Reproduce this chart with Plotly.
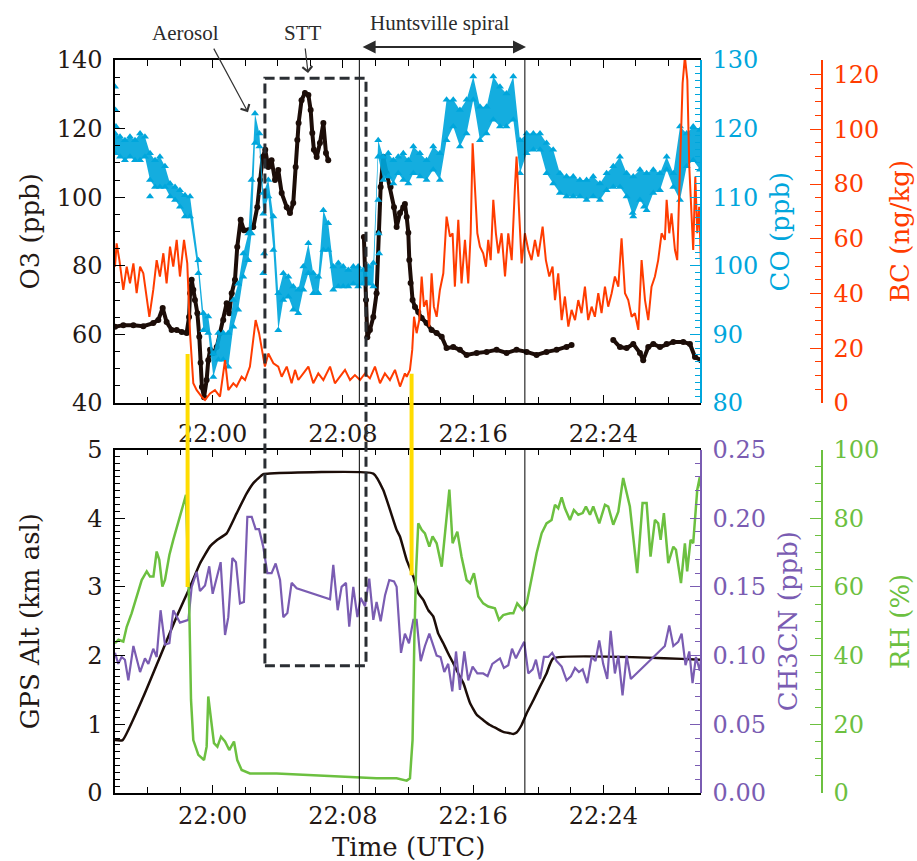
import plotly.graph_objects as go

# ---------------- data (time = minutes after 21:54 UTC) ----------------
x_range = [0, 36]
tick_minutes = [6, 14, 22, 30]
tick_labels = ["22:00", "22:08", "22:16", "22:24"]

o3_t = [0.00, 0.51, 1.13, 1.74, 2.35, 2.66, 2.93, 3.17, 3.48, 3.79, 4.10, 4.40, 4.55, 4.61, 4.71, 4.81,
        4.91, 5.06, 5.18, 5.26, 5.34, 5.47, 5.63, 5.73, 5.84, 6.04, 6.25, 6.45, 6.65, 6.86, 7.02, 7.17,
        7.37, 7.51, 7.72, 7.92, 8.19, 8.50, 8.74, 8.91, 9.07, 9.23, 9.42, 9.62, 9.83, 10.03, 10.24,
        10.55, 10.75, 10.95, 11.10, 11.20, 11.28, 11.46, 11.67, 11.88, 12.02, 12.12, 12.22, 12.39,
        12.59, 12.80, 12.96, 13.10, 14.00, 15.29, 15.42, 15.50, 15.66, 15.87, 16.07, 16.20, 16.32,
        16.48, 16.69, 16.93, 17.14, 17.30, 17.51, 17.71, 17.81, 17.92, 18.02, 18.08, 18.16, 18.28,
        18.43, 18.63, 18.84, 19.14, 19.45, 19.76, 20.07, 20.37, 20.78, 21.19, 21.60, 22.22, 22.83,
        23.44, 24.06, 24.67, 25.29, 25.90, 26.51, 27.13, 27.74, 28.05, 29.00, 30.61, 31.02, 31.43,
        31.84, 32.25, 32.45, 32.76, 33.07, 33.48, 33.89, 34.30, 34.91, 35.32, 35.63, 36.00]
o3_ppb = [62.2, 62.7, 62.7, 62.4, 63.3, 64.2, 67.7, 63.6, 61.3, 61.3, 60.7, 60.4, 65.1, 72.0, 75.9, 73.0,
          70.0, 66.2, 59.3, 51.7, 44.7, 41.7, 46.7, 52.5, 55.5, 54.6, 56.3, 60.4, 64.2, 69.1, 66.2, 72.0,
          75.9, 85.5, 93.4, 90.4, 90.4, 91.3, 97.1, 105.0, 111.7, 113.8, 108.8, 110.8, 105.0, 107.9, 101.2,
          97.1, 95.4, 98.3, 108.8, 116.7, 121.6, 128.3, 130.4, 129.8, 125.4, 118.7, 113.8, 111.7,
          115.8, 121.6, 112.9, 110.8, None, 88.4, 70.0, 59.2, 61.3, 65.1, 72.0, 89.6, 103.0,
          111.7, 107.0, 103.0, 97.1, 91.3, 95.4, 97.1, 98.0, 94.2, 89.6, 81.7, 75.0, 70.0,
          68.0, 66.5, 64.8, 63.3, 61.3, 60.4, 59.3, 56.0, 56.3, 55.5, 54.0, 54.6, 54.9,
          55.5, 54.6, 55.5, 54.9, 54.0, 54.9, 55.5, 56.3, 56.9, None, 58.4, 56.3, 56.0,
          57.2, 54.6, 52.5, 56.3, 57.2, 56.3, 57.2, 57.8, 57.8, 57.2, 53.4, 52.5]

co_t = [0.00, 0.31, 0.61, 0.92, 1.23, 1.54, 1.84, 2.15, 2.46, 2.76, 3.07, 3.38, 3.69, 3.99, 4.30, 4.61,
        5.12, 5.43, 5.73, 6.04, 6.35, 6.65, 6.96, 7.27, 7.57, 7.88, 8.19, 8.39, 8.60, 8.87, 9.11, 9.42,
        9.73, 10.03, 10.34, 10.65, 10.95, 11.26, 11.57, 11.88, 12.18, 12.49, 12.80, 13.10, 13.41, 13.72,
        14.02, 14.33, 14.64, 14.94, 15.25, 15.56, 15.87, 16.17, 16.48, 16.79, 17.10, 17.40, 17.71, 18.02,
        18.33, 18.73, 19.14, 19.55, 19.96, 20.37, 20.78, 21.19, 21.60, 22.01, 22.42, 22.83, 23.24, 23.65,
        24.05, 24.47, 24.88, 25.29, 25.70, 26.11, 26.51, 26.92, 27.33, 27.74, 28.15, 28.56, 28.97, 29.38,
        29.79, 30.20, 30.61, 31.02, 31.43, 31.84, 32.25, 32.66, 33.07, 33.48, 33.89, 34.30, 34.71, 35.12,
        35.52, 35.94]
co_hi = [119.3, 118.8, 118.3, 118.8, 118.3, 119.3, 118.8, 116.4, 115.4, 115.9, 114.5, 112.0, 111.5, 111.0, 110.3, 110.1,
         100.8, 93.1, 92.6, 87.2, 90.2, 90.2, 90.2, 95.0, 97.4, 101.8, 104.7, 112.5, 122.2, 119.3, 110.6, 112.5,
         107.2, 96.0, 98.9, 98.4, 97.0, 96.5, 99.9, 103.3, 98.9, 98.4, 108.1, 106.2, 99.9, 100.4,
         99.9, 99.4, 99.9, 99.9, 99.4, 99.9, 100.4, 118.3, 115.9, 116.4, 115.4, 115.9, 116.4, 115.4,
         117.4, 116.4, 115.4, 117.4, 116.4, 124.2, 124.2, 122.7, 124.2, 127.6, 123.2, 123.2, 127.6, 126.1,
         125.1, 127.6, 118.3, 119.3, 119.3, 119.3, 117.9, 116.9, 113.5, 113.0, 113.0, 112.5, 112.5, 113.0,
         112.0, 113.5, 114.5, 115.9, 113.5, 113.0, 114.0, 113.5, 114.0, 113.5, 115.9, 113.5, 120.3, 119.3,
         120.3, 119.8]
co_lo = [116.4, 115.9, 115.4, 115.9, 115.4, 115.4, 115.9, 112.5, 111.5, 111.5, 111.5, 110.1, 109.6, 108.6, 107.2, 107.2,
         98.9, 90.6, 90.2, 83.8, 86.3, 86.3, 85.3, 91.1, 93.6, 98.4, 100.8, 104.7, 117.9, 117.4, 107.6, 110.1,
         102.3, 90.6, 95.0, 95.5, 93.6, 93.1, 96.5, 98.9, 96.0, 96.0, 102.3, 102.3, 96.5, 97.0,
         97.0, 97.0, 97.4, 97.0, 97.4, 97.4, 97.0, 115.9, 112.5, 113.0, 112.0, 113.5, 112.5, 112.0,
         113.5, 113.0, 112.5, 114.0, 112.5, 118.3, 120.3, 117.4, 119.3, 124.2, 118.3, 119.3, 121.3, 120.3,
         120.3, 121.3, 113.5, 116.4, 116.9, 116.9, 113.5, 112.0, 110.6, 110.1, 110.1, 110.1, 109.6, 110.1,
         109.6, 111.0, 111.5, 111.5, 110.1, 107.2, 109.6, 108.1, 110.6, 111.0, 114.0, 111.5, 109.6, 114.5,
         115.4, 114.0]
co_extra_t = [0.00, 0.03, 0.06, 2.15, 9.11, 9.16, 16.17, 16.20, 16.23, 31.80, 32.50]
co_extra = [126.1, 122.7, 120.3, 110.1, 98.9, 101.8, 109.6, 104.7, 101.8, 107.7, 108.6]

bc_t = [0.00, 0.10, 0.27, 0.51, 0.72, 0.92, 1.13, 1.33, 1.54, 1.74, 2.11, 2.35, 2.56, 2.76, 2.97, 3.17,
        3.38, 3.58, 3.79, 3.99, 4.24, 4.44, 4.61, 4.81, 5.02, 5.32, 5.53, 5.84, 6.14, 6.45, 6.76, 6.96,
        7.27, 7.47, 7.78, 7.99, 8.29, 8.64, 8.85, 9.05, 9.21, 9.42, 9.73, 10.03, 10.24, 10.55, 10.85,
        11.06, 11.26, 11.57, 11.88, 12.18, 12.49, 12.80, 13.21, 13.51, 13.82, 14.13, 14.44, 14.74, 15.05,
        15.36, 15.66, 15.97, 16.28, 16.58, 16.89, 17.20, 17.51, 17.81, 17.92, 18.12, 18.26, 18.37, 18.53,
        18.69, 18.84, 18.98, 19.14, 19.31, 19.45, 19.59, 19.76, 19.96, 20.17, 20.37, 20.58, 20.74, 20.88,
        21.09, 21.29, 21.50, 21.70, 21.85, 21.97, 22.11, 22.26, 22.42, 22.62, 22.79, 22.93, 23.08, 23.24,
        23.40, 23.55, 23.75, 23.96, 24.16, 24.37, 24.57, 24.67, 24.84, 24.98, 25.18, 25.39, 25.59, 25.80,
        26.00, 26.27, 26.47, 26.68, 26.88, 27.03, 27.23, 27.44, 27.64, 27.85, 28.05, 28.26, 28.46, 28.66,
        28.87, 29.07, 29.28, 29.48, 29.69, 29.89, 30.10, 30.30, 30.51, 30.71, 30.92, 31.12, 31.33, 31.53,
        31.74, 31.94, 32.15, 32.35, 32.56, 32.76, 32.96, 33.17, 33.37, 33.58, 33.78, 33.89, 34.05, 34.19,
        34.40, 34.54, 34.71, 34.87, 35.01, 35.16, 35.28, 35.42, 35.52, 35.65, 35.77, 35.89, 36.00]
bc_ngkg = [49.8, 58.3, 52.2, 41.3, 49.8, 43.7, 51.0, 40.1, 49.8, 47.4, 31.5, 41.3, 52.2, 46.2, 54.7, 43.7,
           57.1, 49.8, 59.6, 46.2, 59.6, 51.0, 25.5, 7.2, 4.7, 2.3, 1.1, 3.5, 4.7, 2.3, 15.7, 4.7,
           7.2, 6.0, 9.6, 8.4, 13.3, 30.3, 25.5, 19.4, 13.3, 18.1, 14.5, 13.3, 9.6, 13.3, 7.2,
           12.1, 8.4, 10.8, 13.3, 7.2, 10.8, 8.4, 13.3, 7.2, 9.6, 12.1, 8.4, 10.2, 8.4,
           10.8, 9.0, 13.3, 7.2, 10.8, 8.4, 12.1, 6.0, 10.8, 9.6, 12.1, 19.4, 31.5, 25.5,
           30.3, 46.2, 35.2, 37.6, 27.9, 47.4, 35.2, 31.5, 41.3, 47.4, 68.1, 60.8, 62.0, 42.5,
           66.9, 43.7, 59.6, 43.7, 62.0, 94.9, 79.0, 62.0, 57.1, 54.7, 49.8, 59.6, 52.2, 74.2,
           62.0, 54.7, 62.0, 46.2, 62.0, 52.2, 79.0, 90.0, 68.1, 51.0, 62.0, 55.9, 52.2, 59.6,
           53.5, 64.4, 52.2, 46.2, 49.8, 37.6, 47.4, 30.3, 38.9, 27.9, 34.0, 30.3, 37.6, 32.8,
           42.5, 30.3, 35.2, 31.5, 40.1, 32.8, 42.5, 35.2, 40.1, 46.2, 42.5, 60.2, 40.1, 37.6,
           31.5, 32.8, 26.7, 52.2, 37.6, 30.3, 42.5, 46.2, 52.2, 62.0, 59.6, 74.2, 62.0, 69.3,
           55.9, 52.2, 86.3, 116.8, 126.5, 118.0, 86.3, 64.4, 55.9, 82.7, 62.0, 71.7, 49.8]

alt_t = [0.00, 0.47, 1.74, 2.76, 3.79, 4.61, 5.22, 5.84, 6.25, 6.86, 7.47, 8.09, 8.50, 9.11, 9.52, 15.87,
         16.48, 17.30, 17.51, 17.92, 18.33, 18.63, 18.94, 19.25, 19.55, 19.86, 20.17, 20.47, 20.78, 21.09,
         21.40, 21.81, 22.22, 22.63, 23.03, 23.44, 23.85, 24.26, 24.47, 24.67, 24.98, 25.29, 25.70, 26.11,
         26.51, 26.92, 36.00]
alt_km = [0.77, 0.77, 1.40, 1.98, 2.57, 3.00, 3.34, 3.59, 3.68, 3.78, 4.07, 4.36, 4.51, 4.64, 4.65, 4.65,
          4.41, 3.83, 3.73, 3.39, 3.15, 2.91, 2.81, 2.66, 2.57, 2.32, 2.18, 2.03, 1.89, 1.74,
          1.60, 1.31, 1.14, 1.06, 0.99, 0.94, 0.89, 0.87, 0.86, 0.88, 0.99, 1.16, 1.35, 1.55,
          1.74, 1.96, 1.94]

ch3cn_t = [0.00, 0.20, 0.41, 0.61, 0.82, 1.13, 1.54, 1.84, 2.05, 2.35, 2.56, 2.80, 3.07, 3.34, 3.58, 3.99,
           4.51, 4.71, 5.02, 5.22, 5.53, 5.79, 6.00, 6.25, 6.49, 6.76, 6.96, 7.21, 7.43, 7.68, 7.92, 8.13,
           8.40, 8.64, 8.85, 9.11, 9.36, 9.62, 9.87, 10.14, 10.34, 10.59, 10.85, 11.16, 13.21, 13.41, 13.68,
           13.92, 14.19, 14.39, 14.64, 14.89, 15.09, 15.36, 15.62, 15.87, 16.07, 16.32, 16.59, 16.85, 17.14,
           17.30, 17.57, 17.81, 18.06, 18.33, 18.53, 18.78, 19.04, 19.31, 19.55, 19.76, 20.00, 20.23, 20.47,
           20.72, 20.95, 21.19, 21.46, 21.70, 21.97, 22.26, 22.62, 22.89, 23.18, 23.44, 23.65, 23.89, 24.16,
           24.39, 24.63, 24.88, 25.14, 25.39, 25.66, 25.86, 26.11, 26.35, 26.62, 26.86, 27.13, 27.44, 27.74,
           28.01, 28.26, 28.50, 28.73, 29.01, 29.28, 29.52, 29.75, 29.99, 30.24, 30.45, 30.71, 30.92, 31.18,
           31.43, 31.69, 33.78, 34.05, 34.30, 34.60, 34.81, 35.05, 35.28, 35.48, 35.69, 35.93, 36.00]
ch3cn_ppb = [0.102, 0.094, 0.099, 0.097, 0.082, 0.107, 0.088, 0.098, 0.094, 0.105, 0.099, 0.133, 0.108, 0.109, 0.133, 0.124,
             0.126, 0.150, 0.161, 0.147, 0.151, 0.165, 0.145, 0.158, 0.168, 0.115, 0.128, 0.171, 0.168, 0.138, 0.139, 0.201,
             0.201, 0.192, 0.192, 0.179, 0.160, 0.160, 0.167, 0.155, 0.128, 0.131, 0.153, 0.149, 0.141, 0.166, 0.133,
             0.150, 0.153, 0.121, 0.150, 0.128, 0.142, 0.136, 0.156, 0.126, 0.139, 0.125, 0.144, 0.155, 0.154,
             0.150, 0.102, 0.116, 0.109, 0.126, 0.126, 0.096, 0.107, 0.116, 0.107, 0.100, 0.099, 0.088, 0.094,
             0.074, 0.103, 0.075, 0.103, 0.082, 0.092, 0.087, 0.087, 0.085, 0.094, 0.096, 0.098, 0.091, 0.093,
             0.105, 0.098, 0.104, 0.110, 0.087, 0.090, 0.097, 0.083, 0.099, 0.099, 0.102, 0.096, 0.092, 0.082,
             0.085, 0.091, 0.088, 0.090, 0.080, 0.099, 0.096, 0.111, 0.094, 0.083, 0.118, 0.087, 0.100, 0.071,
             0.100, 0.083, 0.107, 0.122, 0.107, 0.110, 0.116, 0.093, 0.103, 0.080, 0.099, 0.089, 0.097]

rh_t = [0.00, 0.21, 0.51, 0.72, 1.02, 1.33, 1.64, 1.95, 2.15, 2.36, 2.56, 2.72, 2.91, 3.07, 3.34, 3.58,
        3.89, 4.16, 4.36, 4.44, 4.57, 4.67, 4.81, 5.12, 5.47, 5.63, 5.73, 5.88, 6.08, 6.29, 6.51, 6.76,
        7.02, 7.31, 7.51, 7.78, 8.29, 9.93, 11.98, 14.03, 16.07, 17.30, 17.92, 18.12, 18.28, 18.39, 18.49,
        18.63, 18.84, 19.04, 19.31, 19.51, 19.76, 20.07, 20.23, 20.54, 20.74, 21.03, 21.29, 21.60, 21.81,
        22.05, 22.32, 22.62, 22.93, 23.34, 23.59, 23.85, 24.26, 24.47, 24.71, 25.04, 25.29, 25.59, 25.90,
        26.21, 26.51, 26.82, 27.03, 27.23, 27.44, 27.64, 27.95, 28.19, 28.46, 28.73, 28.93, 29.18, 29.38,
        29.75, 30.10, 30.30, 30.61, 30.92, 31.22, 31.63, 31.84, 32.08, 32.41, 32.66, 32.90, 33.17, 33.37,
        33.52, 33.72, 33.99, 34.30, 34.46, 34.77, 35.01, 35.15, 35.36, 35.52, 35.77, 35.93, 36.00]
rh_pct = [43.6, 44.6, 44.1, 48.4, 52.3, 57.2, 62.0, 64.5, 63.0, 63.0, 70.3, 67.9, 60.1, 62.0, 69.3, 73.7,
          78.5, 83.4, 86.8, 73.7, 52.3, 27.1, 15.4, 11.1, 9.6, 13.5, 28.1, 22.2, 14.5, 13.5, 16.4, 15.0,
          12.5, 15.0, 9.6, 6.7, 5.7, 5.7, 5.2, 4.8, 4.3, 4.3, 3.6, 4.3, 15.4, 44.6, 64.0,
          78.5, 76.6, 75.6, 71.7, 74.7, 72.7, 65.9, 73.7, 88.3, 72.7, 76.1, 68.8, 62.0, 61.1,
          64.0, 57.2, 55.2, 54.3, 53.8, 50.4, 51.8, 52.3, 52.3, 55.2, 53.3, 55.2, 62.0, 69.8,
          75.6, 78.5, 79.5, 83.9, 82.9, 86.1, 82.9, 79.5, 82.4, 81.0, 81.5, 83.4, 81.0, 83.4,
          78.5, 83.9, 83.4, 78.1, 81.9, 91.7, 83.4, 73.7, 64.0, 84.4, 84.4, 68.8, 79.5, 78.5,
          73.7, 81.5, 66.9, 71.7, 70.8, 61.1, 72.7, 64.5, 73.7, 72.7, 88.3, 92.1, 88.7]

# event markers (times in minutes after 21:54, values in the panel units)
spiral_t = [15.01, 25.18]
yellow_t = [4.46, 18.22]
yellow_o3_top = [54.3, 48.5]
yellow_alt_bottom = [3.00, 3.17]
box_t = [9.21, 15.42]
box_o3_top = 134.7
box_alt_bottom = 1.853

# ---------------- styling ----------------
FONT = "DejaVu Serif"
ANN_FONT = "Liberation Serif"
C_O3 = "#1c0d08"
C_CO = "#00a6dc"
C_BC = "#ff3c00"
C_CH = "#7a5cb2"
C_RH = "#6cc040"
C_YEL = "#ffdc00"
C_TXT = "#231815"

W, H = 917, 861
ML, MR, MT, MB = 115, 12, 60, 68
PW = W - ML - MR
PH = H - MT - MB
XD = 586 / PW
TOP_DOM = [390 / PH, 1.0]
BOT_DOM = [0.0, 343.5 / PH]
O3_RANGE = [40, 140]
CO_RANGE = [80, 130]
BC_RANGE = [0, 125.3]
ALT_RANGE = [0, 5]
CH_RANGE = [0, 0.25]
RH_RANGE = [0, 100]


def py(v, dom, rng):
    return dom[0] + (v - rng[0]) / (rng[1] - rng[0]) * (dom[1] - dom[0])


def ppx(px):
    return (px - ML) / PW


def ppy(py_pix):
    return (H - MB - py_pix) / PH


fig = go.Figure()

# top panel: CO as a dense cloud of triangles (band filled between its upper and lower envelope)
tri = dict(symbol="triangle-up", size=7, color=C_CO)
fig.add_trace(go.Scatter(x=co_t, y=co_lo, mode="lines", yaxis="y2", xaxis="x",
                         line=dict(width=0, color=C_CO), showlegend=False))
fig.add_trace(go.Scatter(x=co_t, y=co_hi, mode="lines", yaxis="y2", xaxis="x", fill="tonexty",
                         fillcolor="rgba(0,166,220,0.92)", line=dict(width=0, color=C_CO),
                         showlegend=False))
fig.add_trace(go.Scatter(x=co_t, y=co_lo, mode="markers", yaxis="y2", xaxis="x", marker=tri, showlegend=False))
fig.add_trace(go.Scatter(x=co_t, y=co_hi, mode="markers", yaxis="y2", xaxis="x", marker=tri, showlegend=False))
fig.add_trace(go.Scatter(x=co_extra_t, y=co_extra, mode="markers", yaxis="y2", xaxis="x",
                         marker=tri, showlegend=False))
fig.add_trace(go.Scatter(x=bc_t, y=bc_ngkg, mode="lines", yaxis="y3", xaxis="x",
                         line=dict(color=C_BC, width=2), showlegend=False))
fig.add_trace(go.Scatter(x=o3_t, y=o3_ppb, mode="lines+markers", yaxis="y", xaxis="x",
                         line=dict(color=C_O3, width=4), marker=dict(size=6, color=C_O3),
                         connectgaps=False, showlegend=False))

# bottom panel
fig.add_trace(go.Scatter(x=rh_t, y=rh_pct, mode="lines", yaxis="y6", xaxis="x2",
                         line=dict(color=C_RH, width=2.5), showlegend=False))
fig.add_trace(go.Scatter(x=ch3cn_t, y=ch3cn_ppb, mode="lines", yaxis="y5", xaxis="x2",
                         line=dict(color=C_CH, width=2.2), showlegend=False))
fig.add_trace(go.Scatter(x=alt_t, y=alt_km, mode="lines", yaxis="y4", xaxis="x2",
                         line=dict(color=C_O3, width=2.5, shape="spline", smoothing=0.4), showlegend=False))

tickfont = dict(family=FONT, size=24, color=C_TXT)


def xaxis_cfg(anchor, standoff):
    return dict(domain=[0, XD], anchor=anchor, range=x_range, tickmode="array",
                tickvals=tick_minutes, ticktext=tick_labels, ticks="inside", ticklen=8,
                tickwidth=1.3, tickcolor="black", showline=True, linecolor="black", linewidth=1.5,
                mirror="ticks", showgrid=False, zeroline=False, tickfont=tickfont,
                ticklabelstandoff=standoff,
                minor=dict(tickmode="linear", tick0=0, dtick=2, ticks="inside", ticklen=6,
                           tickcolor="black", tickwidth=1.3))


def yaxis_cfg(dom, rng, dtick, minor, color, fmt=None, side="left", overlay=None, pos=None,
              ticklen=10, minorlen=5):
    d = dict(range=rng, dtick=dtick, tick0=0, ticks="inside", ticklen=ticklen, tickwidth=1.3,
             tickcolor=color, showline=True, linecolor=color, linewidth=1.5, showgrid=False,
             zeroline=False, side=side, tickfont=dict(family=FONT, size=24, color=color if color != "black" else C_TXT),
             ticklabelstandoff=6,
             minor=dict(dtick=minor, tick0=0, ticks="inside", ticklen=minorlen, tickcolor=color, tickwidth=1.3))
    if fmt:
        d["tickformat"] = fmt
    if overlay:
        d["overlaying"] = overlay
        d["anchor"] = "free"
        d["position"] = pos
    else:
        d["domain"] = dom
    return d


BC_POS = ppx(822)

fig.update_layout(
    width=W, height=H, margin=dict(l=ML, r=MR, t=MT, b=MB),
    paper_bgcolor="white", plot_bgcolor="white", showlegend=False,
    xaxis=xaxis_cfg("y", 8),
    xaxis2=xaxis_cfg("y4", 0),
    yaxis=dict(yaxis_cfg(TOP_DOM, O3_RANGE, 20, 5, "black"), anchor="x"),
    yaxis2=yaxis_cfg(None, CO_RANGE, 10, 1, C_CO, side="right", overlay="y", pos=XD),
    yaxis3=yaxis_cfg(None, BC_RANGE, 20, 5, C_BC, side="right", overlay="y", pos=BC_POS, ticklen=11, minorlen=6),
    yaxis4=dict(yaxis_cfg(BOT_DOM, ALT_RANGE, 1, 0.1, "black"), anchor="x2"),
    yaxis5=yaxis_cfg(None, CH_RANGE, 0.05, 0.01, C_CH, fmt=".2f", side="right", overlay="y4", pos=XD),
    yaxis6=yaxis_cfg(None, RH_RANGE, 20, 5, C_RH, side="right", overlay="y4", pos=BC_POS, ticklen=11, minorlen=6),
)

shapes = []
for t in spiral_t:
    shapes.append(dict(type="line", xref="x", yref="y domain", x0=t, x1=t, y0=0, y1=1,
                       line=dict(color="black", width=1)))
    shapes.append(dict(type="line", xref="x2", yref="y4 domain", x0=t, x1=t, y0=0, y1=1,
                       line=dict(color="black", width=1)))
for t, top, bot in zip(yellow_t, yellow_o3_top, yellow_alt_bottom):
    shapes.append(dict(type="line", xref="x", yref="paper", x0=t, x1=t,
                       y0=py(bot, BOT_DOM, ALT_RANGE), y1=py(top, TOP_DOM, O3_RANGE),
                       line=dict(color=C_YEL, width=4)))
shapes.append(dict(type="rect", xref="x", yref="paper", x0=box_t[0], x1=box_t[1],
                   y0=py(box_alt_bottom, BOT_DOM, ALT_RANGE), y1=py(box_o3_top, TOP_DOM, O3_RANGE),
                   line=dict(color="#2a2e33", width=3, dash="10px,5px"), fillcolor="rgba(0,0,0,0)"))
fig.update_layout(shapes=shapes)

title_font = dict(family=FONT, size=26, color=C_TXT)
top_mid = (TOP_DOM[0] + TOP_DOM[1]) / 2
bot_mid = (BOT_DOM[0] + BOT_DOM[1]) / 2
ann = [
    dict(text="O3 (ppb)", x=ppx(30), y=top_mid, textangle=-90, font=title_font),
    dict(text="GPS Alt (km asl)", x=ppx(30), y=bot_mid, textangle=-90, font=title_font),
    dict(text="CO (ppb)", x=ppx(780), y=top_mid, textangle=-90, font=dict(title_font, color=C_CO)),
    dict(text="BC (ng/kg)", x=ppx(900), y=top_mid, textangle=-90, font=dict(title_font, color=C_BC)),
    dict(text="CH3CN (ppb)", x=ppx(788), y=bot_mid, textangle=-90, font=dict(title_font, color=C_CH)),
    dict(text="RH (%)", x=ppx(900), y=bot_mid, textangle=-90, font=dict(title_font, color=C_RH)),
    dict(text="Time (UTC)", x=XD / 2, y=ppy(847), font=title_font),
]
for a in ann:
    a.update(xref="paper", yref="paper", showarrow=False, xanchor="center", yanchor="middle")

afont = dict(family=ANN_FONT, size=21, color="#2b2b2b")
ann += [
    dict(text="Aerosol", xref="x", yref="paper", x=4.36, y=ppy(33), showarrow=False, font=afont,
         xanchor="center", yanchor="middle"),
    dict(text="STT", xref="x", yref="paper", x=11.55, y=ppy(33), showarrow=False, font=afont,
         xanchor="center", yanchor="middle"),
    dict(text="Huntsville spiral", xref="x", yref="paper", x=19.96, y=ppy(23), showarrow=False, font=afont,
         xanchor="center", yanchor="middle"),
    dict(text="", xref="x", yref="y", x=8.17, y=124.8, ax=-35, ay=-65, showarrow=True,
         arrowhead=4, arrowsize=1.6, arrowwidth=1.2, arrowcolor="#333333"),
    dict(text="", xref="x", yref="y", x=11.86, y=136.2, ax=-3, ay=-26, showarrow=True,
         arrowhead=4, arrowsize=1.6, arrowwidth=1.2, arrowcolor="#333333"),
    dict(text="", xref="x", yref="paper", x=25.25, y=ppy(47), axref="x", ayref="pixel",
         ax=15.12, ay=0, showarrow=True, arrowside="end+start", arrowhead=2,
         startarrowhead=2, arrowsize=1.3, startarrowsize=1.3, arrowwidth=2, arrowcolor="#2b2b2b"),
]
fig.update_layout(annotations=ann)

fig.write_html("out.html", config={"displayModeBar": False},
               post_script="document.body.style.margin='0px';")
